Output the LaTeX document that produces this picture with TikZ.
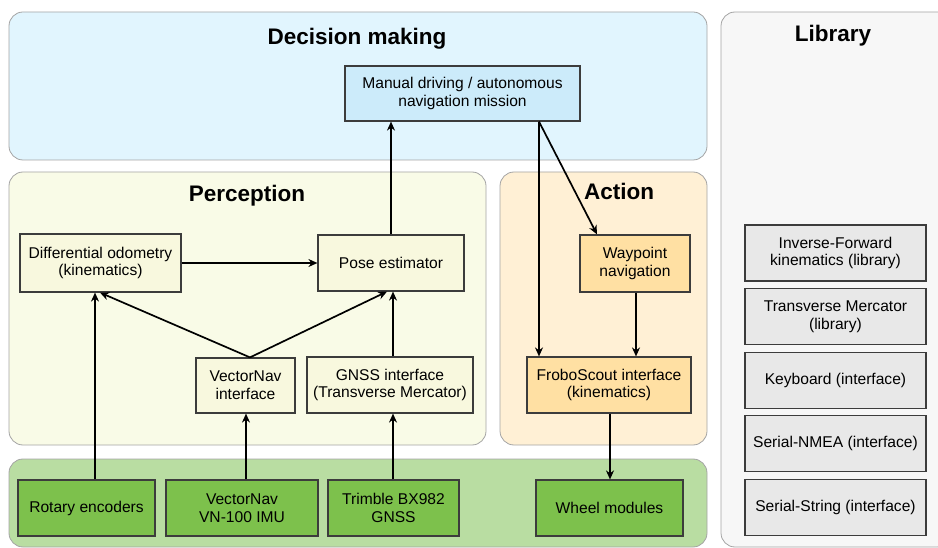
\documentclass[tikz,border=0pt]{standalone}
\usepackage{fontspec}
\setmainfont{Liberation Sans}
\usepackage{xcolor}
\usetikzlibrary{arrows.meta}

\definecolor{decfill}{HTML}{E1F5FE}
\definecolor{decbox}{HTML}{CCEBFA}
\definecolor{perfill}{HTML}{F9FBE7}
\definecolor{perbox}{HTML}{F8F8DE}
\definecolor{actfill}{HTML}{FFF0D5}
\definecolor{actbox}{HTML}{FFE0A3}
\definecolor{hwfill}{HTML}{B9DDA2}
\definecolor{hwbox}{HTML}{7DC14C}
\definecolor{libfill}{HTML}{F7F7F7}
\definecolor{libbox}{HTML}{E8E8E8}
\definecolor{frame}{HTML}{A4A4A4}
\definecolor{edge}{HTML}{3C3C3C}

\begin{document}
\begin{tikzpicture}[
  x=1pt, y=-1pt,
  zone/.style={draw=frame, rounded corners=14pt, line width=0.8pt, inner sep=0pt},
  blk/.style={draw=edge, line width=1.2pt, align=center, inner sep=0pt, minimum height=56pt, font=\fontsize{15.6}{17.8}\selectfont},
  ttl/.style={font=\fontsize{22.5}{26}\selectfont\bfseries},
  arr/.style={-{Stealth[length=9pt,width=8pt]}, line width=1.7pt}
]
  \useasboundingbox (0,0) rectangle (938,548);
  % zones
  \node[zone, fill=decfill, minimum width=698pt, minimum height=148pt] (zdec) at (358,86) {};
  \node[zone, fill=perfill, minimum width=477pt, minimum height=273pt] (zper) at (247.5,308.5) {};
  \node[zone, fill=actfill, minimum width=207pt, minimum height=273pt] (zact) at (603.5,308.5) {};
  \node[zone, fill=hwfill, minimum width=698pt, minimum height=88pt] (zhw) at (358,503) {};
  \node[zone, fill=libfill, minimum width=230pt, minimum height=535pt] (zlib) at (836,279.5) {};
  \node[ttl] (tdec) at (357,38.5) {Decision making};
  \node[ttl] (tper) at (247,196) {Perception};
  \node[ttl] (tact) at (619,191.5) {Action};
  \node[ttl] (tlib) at (833,36) {Library};

  % decision making
  \node[blk, fill=decbox, minimum width=235pt, minimum height=55pt] (man) at (462.5,93.5) {Manual driving / autonomous\\navigation mission};

  % perception
  \node[blk, fill=perbox, minimum width=161pt, minimum height=58pt] (odo) at (100.5,263) {Differential odometry\\(kinematics)};
  \node[blk, fill=perbox, minimum width=146pt] (pose) at (391,263) {Pose estimator};
  \node[blk, fill=perbox, minimum width=99pt, minimum height=55pt] (vni) at (245.5,385.5) {VectorNav\\interface};
  \node[blk, fill=perbox, minimum width=166pt] (gnssi) at (390,385) {GNSS interface\\(Transverse Mercator)};

  % action
  \node[blk, fill=actbox, minimum width=110pt, minimum height=57pt] (wpt) at (635,263.5) {Waypoint\\navigation};
  \node[blk, fill=actbox, minimum width=164pt] (frobo) at (609,385) {FroboScout interface\\(kinematics)};

  % hardware
  \node[blk, fill=hwbox, minimum width=137pt] (enc) at (86.5,508) {Rotary encoders};
  \node[blk, fill=hwbox, minimum width=152pt] (imu) at (242,508) {VectorNav\\VN-100 IMU};
  \node[blk, fill=hwbox, minimum width=131pt] (trim) at (393.5,508) {Trimble BX982\\GNSS};
  \node[blk, fill=hwbox, minimum width=147pt] (wheel) at (609.5,508) {Wheel modules};

  % library
  \node[blk, fill=libbox, minimum width=181pt] (lib1) at (835.5,253) {Inverse-Forward\\kinematics (library)};
  \node[blk, fill=libbox, minimum width=181pt] (lib2) at (835.5,316.5) {Transverse Mercator\\(library)};
  \node[blk, fill=libbox, minimum width=181pt] (lib3) at (835.5,380.5) {Keyboard (interface)};
  \node[blk, fill=libbox, minimum width=181pt] (lib4) at (835.5,443.5) {Serial-NMEA (interface)};
  \node[blk, fill=libbox, minimum width=181pt] (lib5) at (835.5,507.5) {Serial-String (interface)};

  % connections
  \draw[arr] (pose.north) -- (pose.north |- man.south);
  \draw[arr] (odo.east) -- (pose.west);
  \draw[arr] ([xshift=4.5pt]vni.north) -- ([xshift=-0.5pt]odo.south);
  \draw[arr] ([xshift=4.5pt]vni.north) -- ([xshift=-4pt]pose.south);
  \draw[arr] ([xshift=3pt]gnssi.north) -- ([xshift=2pt]pose.south);
  \draw[arr] ([xshift=8.5pt]enc.north) -- ([xshift=-5.5pt]odo.south);
  \draw[arr] ([xshift=4pt]imu.north) -- ([xshift=0.5pt]vni.south);
  \draw[arr] ([xshift=-0.5pt]trim.north) -- ([xshift=3pt]gnssi.south);
  \draw[arr] ([xshift=76.5pt]man.south) -- ([xshift=-70pt]frobo.north);
  \draw[arr] ([xshift=76.5pt]man.south) -- ([xshift=-38pt]wpt.north);
  \draw[arr] ([xshift=1pt]wpt.south) -- ([xshift=27pt]frobo.north);
  \draw[arr] ([xshift=1pt]frobo.south) -- ([xshift=0.5pt]wheel.north);
\end{tikzpicture}
\end{document}
